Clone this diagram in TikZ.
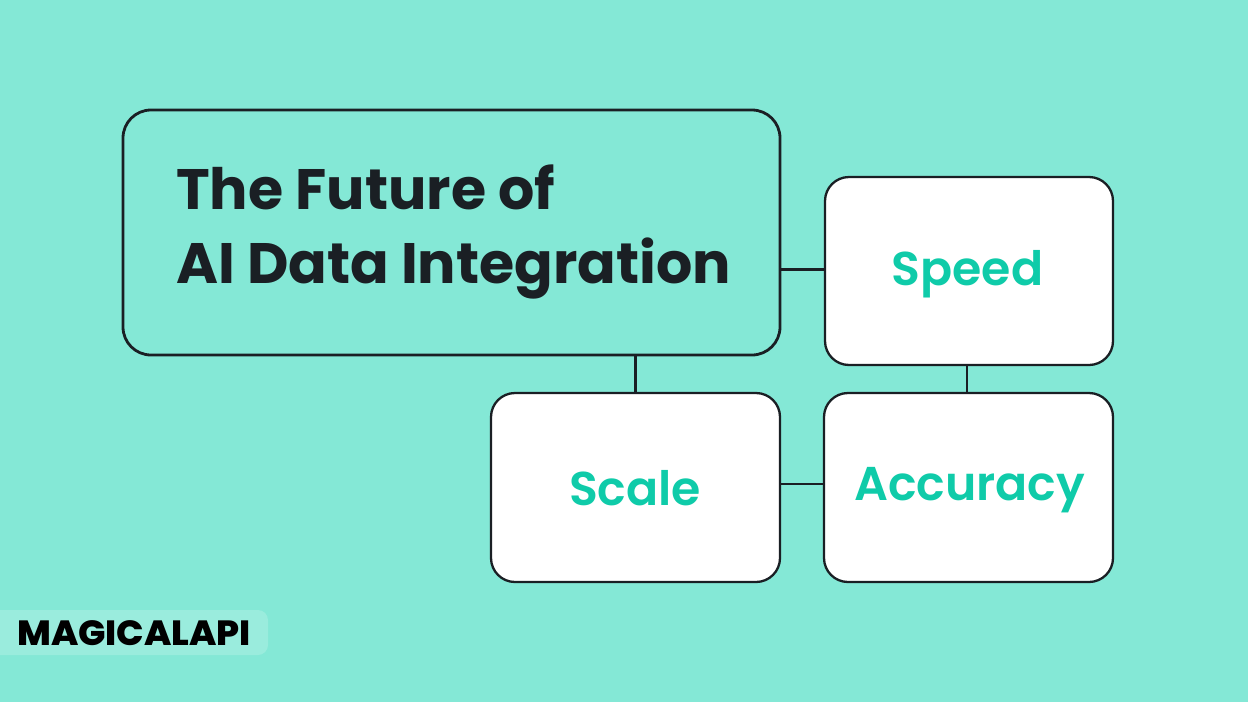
\documentclass[tikz,border=0pt]{standalone}
\usepackage{fontspec}
\setmainfont{Poppins}
\newfontfamily\popsb{Poppins SemiBold}
\newfontfamily\popxb{Poppins ExtraBold}
\definecolor{bgc}{HTML}{84E8D6}
\definecolor{logobg}{HTML}{9AECDD}
\definecolor{ink}{HTML}{1A1F24}
\definecolor{teal}{HTML}{0FCBA9}
\tikzset{
  x=1pt,y=-1pt,
  boxs/.style={draw=ink,line width=2.3pt,rounded corners=24pt,fill=white},
  mainbox/.style={draw=ink,line width=2.8pt,rounded corners=28pt,fill=bgc},
  link/.style={draw=ink,line width=2.3pt},
  lab/.style={font=\popsb\fontsize{47.4}{47.4}\selectfont,text=teal,inner sep=0pt,anchor=base},
  title/.style={font=\bfseries\fontsize{57}{57}\selectfont,text=ink,inner sep=0pt,anchor=base west},
}
\begin{document}
\begin{tikzpicture}
\useasboundingbox (0,0) rectangle (1248,702);
\fill[bgc] (0,0) rectangle (1248,702);
\draw[mainbox] (123,110) rectangle (780,355);
\coordinate (mainE) at (780,269.5);
\coordinate (mainS) at (635.5,355);
\draw[boxs] (825,177) rectangle (1113,365);
\draw[boxs] (491,393) rectangle (780,582);
\draw[boxs] (824,393) rectangle (1113,582);
\coordinate (speedW) at (825,269.5);
\coordinate (speedS) at (967,365);
\coordinate (accN) at (967,393);
\coordinate (accW) at (824,484);
\coordinate (scaleN) at (635.5,393);
\coordinate (scaleE) at (780,484);
\draw[link] (mainE) -- (speedW);
\draw[link] (mainS) -- (scaleN);
\draw[link] (speedS) -- (accN);
\draw[link] (scaleE) -- (accW);
\node[title] (t1) at (176,209) {The Future of};
\node[title] (t2) at (176,283) {AI Data Integration};
\node[lab] (speed) at (967.5,285) {Speed};
\node[lab] (scale) at (635,505) {Scale};
\node[lab] (acc) at (969.5,500) {Accuracy};
\fill[logobg,rounded corners=10pt] (-20,610) rectangle (268,655);
\node[inner sep=0pt,anchor=base west,text=black,font=\popxb\fontsize{35}{35}\selectfont] (logo) at (17,645) {\scalebox{1.035}[1]{MAGICALAPI}};
\end{tikzpicture}
\end{document}
